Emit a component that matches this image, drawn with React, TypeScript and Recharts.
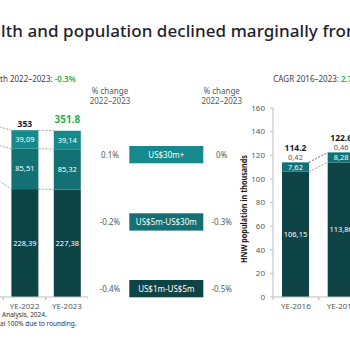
import { BarChart, Bar, XAxis, YAxis } from 'recharts';

// HNW wealth (left) and HNW population (right), stacked by wealth band
const wealthYears = ['YE-2021', 'YE-2022', 'YE-2023'];
const wealth1to5 = [250.0, 228.39, 227.38];
const wealth5to30 = [72.0, 85.51, 85.32];
const wealth30plus = [40.0, 39.09, 39.14];
// YE-2021 only feeds the dashed connectors coming in from the left edge
const wealthLabelFrom = 1;

const popYears = ['YE-2016', 'YE-2017'];
const pop1to5 = [106.15, 113.86];
const pop5to30 = [7.62, 8.28];
const pop30plus = [0.42, 0.46];
const popTicks = [0, 20, 40, 60, 80, 100, 120, 140, 160];

const bands = ['US$30m+', 'US$5m-US$30m', 'US$1m-US$5m'];
const wealthChange = ['0.1%', '-0.2%', '-0.4%'];
const popChange = ['0%', '-0.3%', '-0.5%'];

const C_HIGH = '#15898b';
const C_MID = '#137174';
const C_LOW = '#0f4447';
const GREEN = '#27b24a';
const GREY = '#595959';
const FONT = '"Noto Sans", sans-serif';

// layout
const PLOT_TOP = 107.7;
const PLOT_H = 189;
const TOP_PAD = 30;
const AXIS_H = 30;
const LEFT_STEP = 42.4;
const LEFT_X0 = 3.3 - LEFT_STEP;
const RIGHT_STEP = 45.7;
const RIGHT_X0 = 272.7;
const Y_AXIS_W = 30;

const comma = (v: number) => v.toFixed(2).replace('.', ',');
const totalFmt = (v: number) => String(Math.round(v * 10) / 10);

const cumulate = (...cols: number[][]) =>
  cols[0].map((_, i) => cols.reduce((s, c) => s + c[i], 0));

const wealthData = wealthYears.map((year, i) => ({
  year,
  low: wealth1to5[i],
  mid: wealth5to30[i],
  high: wealth30plus[i],
}));
const popData = popYears.map((year, i) => ({
  year,
  low: pop1to5[i],
  mid: pop5to30[i],
  high: pop30plus[i],
}));

type SegOpts = {
  fill: string;
  values: number[];
  tops: number[];
  step: number;
  inside?: boolean;
  labelFrom?: number;
  extra?: (p: any, i: number) => any;
};

// rect + dashed connector to the same segment of the next bar + label
function segmentShape(o: SegOpts) {
  return (p: any) => {
    const { x, y, width, height, index } = p;
    const ratio = height / o.values[index];
    const hasNext = index + 1 < o.tops.length;
    const labelled = index >= (o.labelFrom ?? 0);
    return (
      <g>
        <rect x={x} y={y} width={width} height={height} fill={o.fill} />
        {hasNext && (
          <line
            x1={x + width}
            y1={y}
            x2={x + o.step}
            y2={y + (o.tops[index] - o.tops[index + 1]) * ratio}
            stroke="#8c8c8c"
            strokeWidth={0.8}
            strokeDasharray="2 1.5"
          />
        )}
        {o.inside && labelled && (
          <text
            x={x + width / 2}
            y={y + height / 2}
            dy="0.35em"
            textAnchor="middle"
            fill="#ffffff"
            fontSize={7.5}
          >
            {comma(o.values[index])}
          </text>
        )}
        {o.extra && labelled && o.extra(p, index)}
      </g>
    );
  };
}

function CatTick(props: any) {
  const { x, y, payload, step, hideBefore } = props;
  const show = x >= (hideBefore ?? -Infinity);
  return (
    <g>
      <line x1={x - step / 2} y1={y} x2={x - step / 2} y2={y + 3} stroke="#bfbfbf" />
      <line x1={x + step / 2} y1={y} x2={x + step / 2} y2={y + 3} stroke="#bfbfbf" />
      {show && (
        <text x={x} y={y + 12} textAnchor="middle" fill={GREY} fontSize={8}>
          {payload.value}
        </text>
      )}
    </g>
  );
}

export default function App() {
  const wTotals = cumulate(wealth1to5, wealth5to30, wealth30plus);
  const pTotals = cumulate(pop1to5, pop5to30, pop30plus);

  const wealthTotal = (p: any, i: number) => {
    const last = i === wealthYears.length - 1;
    return (
      <text
        x={p.x + p.width / 2}
        y={p.y - (last ? 8 : 3)}
        textAnchor="middle"
        fill={last ? GREEN : '#1a1a1a'}
        fontSize={last ? 10 : 8.5}
        fontWeight={700}
      >
        {totalFmt(wTotals[i])}
      </text>
    );
  };

  const popTotal = (p: any, i: number) => (
    <g>
      <text x={p.x + p.width / 2} y={p.y - 2} textAnchor="middle" fill={GREY} fontSize={7.5}>
        {comma(pop30plus[i])}
      </text>
      <text
        x={p.x + p.width / 2}
        y={p.y - 11}
        textAnchor="middle"
        fill="#1a1a1a"
        fontSize={8.5}
        fontWeight={700}
      >
        {totalFmt(pTotals[i])}
      </text>
    </g>
  );

  const chartH = TOP_PAD + PLOT_H + AXIS_H;
  const boxY = [146, 213.3, 280];
  const boxFill = [C_HIGH, C_MID, C_LOW];

  return (
    <div
      style={{
        position: 'fixed',
        left: 0,
        top: 0,
        width: 350,
        height: 350,
        overflow: 'hidden',
        background: '#ffffff',
        fontFamily: FONT,
      }}
    >
      {/* wealth chart, partly off the left edge */}
      <div style={{ position: 'absolute', left: LEFT_X0, top: PLOT_TOP - TOP_PAD }}>
        <BarChart
          width={LEFT_STEP * wealthYears.length}
          height={chartH}
          data={wealthData}
          margin={{ top: TOP_PAD, right: 0, bottom: 0, left: 0 }}
          barSize={27}
        >
          <XAxis
            dataKey="year"
            height={AXIS_H}
            interval={0}
            tickSize={0}
            tickMargin={0}
            tickLine={false}
            axisLine={{ stroke: '#bfbfbf' }}
            tick={(p: any) => <CatTick {...p} step={LEFT_STEP} hideBefore={LEFT_STEP} />}
          />
          <YAxis hide domain={[0, 400]} />
          <Bar
            dataKey="low"
            stackId="w"
            fill={C_LOW}
            isAnimationActive={false}
            shape={segmentShape({
              fill: C_LOW,
              values: wealth1to5,
              tops: cumulate(wealth1to5),
              step: LEFT_STEP,
              inside: true,
              labelFrom: wealthLabelFrom,
            })}
          />
          <Bar
            dataKey="mid"
            stackId="w"
            fill={C_MID}
            isAnimationActive={false}
            shape={segmentShape({
              fill: C_MID,
              values: wealth5to30,
              tops: cumulate(wealth1to5, wealth5to30),
              step: LEFT_STEP,
              inside: true,
              labelFrom: wealthLabelFrom,
            })}
          />
          <Bar
            dataKey="high"
            stackId="w"
            fill={C_HIGH}
            isAnimationActive={false}
            shape={segmentShape({
              fill: C_HIGH,
              values: wealth30plus,
              tops: wTotals,
              step: LEFT_STEP,
              inside: true,
              labelFrom: wealthLabelFrom,
              extra: wealthTotal,
            })}
          />
        </BarChart>
      </div>

      {/* population chart, partly off the right edge */}
      <div style={{ position: 'absolute', left: RIGHT_X0 - Y_AXIS_W, top: PLOT_TOP - TOP_PAD }}>
        <BarChart
          width={Y_AXIS_W + RIGHT_STEP * popYears.length}
          height={chartH}
          data={popData}
          margin={{ top: TOP_PAD, right: 0, bottom: 0, left: 0 }}
          barSize={27}
        >
          <XAxis
            dataKey="year"
            height={AXIS_H}
            interval={0}
            tickSize={0}
            tickMargin={0}
            tickLine={false}
            axisLine={{ stroke: '#bfbfbf' }}
            tick={(p: any) => <CatTick {...p} step={RIGHT_STEP} />}
          />
          <YAxis
            width={Y_AXIS_W}
            domain={[0, 160]}
            ticks={popTicks}
            interval={0}
            tickSize={3}
            tickMargin={5}
            axisLine={{ stroke: '#bfbfbf' }}
            tickLine={{ stroke: '#bfbfbf' }}
            tick={{ fontSize: 8, fill: GREY }}
          />
          <Bar
            dataKey="low"
            stackId="p"
            fill={C_LOW}
            isAnimationActive={false}
            shape={segmentShape({
              fill: C_LOW,
              values: pop1to5,
              tops: cumulate(pop1to5),
              step: RIGHT_STEP,
              inside: true,
            })}
          />
          <Bar
            dataKey="mid"
            stackId="p"
            fill={C_MID}
            isAnimationActive={false}
            shape={segmentShape({
              fill: C_MID,
              values: pop5to30,
              tops: cumulate(pop1to5, pop5to30),
              step: RIGHT_STEP,
              inside: true,
            })}
          />
          <Bar
            dataKey="high"
            stackId="p"
            fill={C_HIGH}
            isAnimationActive={false}
            shape={segmentShape({
              fill: C_HIGH,
              values: pop30plus,
              tops: pTotals,
              step: RIGHT_STEP,
              extra: popTotal,
            })}
          />
        </BarChart>
      </div>

      {/* titles, change columns, band legend, notes */}
      <svg
        width={350}
        height={350}
        style={{ position: 'absolute', left: 0, top: 0, pointerEvents: 'none' }}
      >
        <text x={1} y={36.5} fontSize={17} fontWeight={500} fill="#1e1e2b" textLength={361}>
          lth and population declined marginally from
        </text>

        <text x={0} y={82} fontSize={8} fill="#404040">
          th 2022–2023: <tspan fill={GREEN} fontWeight={600}>-0.3%</tspan>
        </text>
        <text x={273.3} y={82} fontSize={8} fill="#404040">
          CAGR 2016–2023: <tspan fill={GREEN} fontWeight={600}>2.7%</tspan>
        </text>

        {[110, 221.7].map((cx) => (
          <g key={cx} fill={GREY} fontSize={8} textAnchor="middle">
            <text x={cx} y={94}>% change</text>
            <text x={cx} y={104}>2022–2023</text>
          </g>
        ))}

        {bands.map((b, i) => (
          <g key={b}>
            <text x={110} y={boxY[i] + 11.5} fontSize={8} fill={GREY} textAnchor="middle">
              {wealthChange[i]}
            </text>
            <rect x={129.3} y={boxY[i]} width={74} height={17.3} fill={boxFill[i]} />
            <text x={166.3} y={boxY[i] + 11.5} fontSize={8} fill="#ffffff" textAnchor="middle">
              {b}
            </text>
            <text x={221.7} y={boxY[i] + 11.5} fontSize={8} fill={GREY} textAnchor="middle">
              {popChange[i]}
            </text>
          </g>
        ))}

        <text
          x={0}
          y={0}
          transform="translate(246.5 209) rotate(-90)"
          textAnchor="middle"
          fontSize={8}
          fontWeight={700}
          fill="#1a1a1a"
          textLength={108}
          lengthAdjust="spacingAndGlyphs"
        >
          HNW population in thousands
        </text>

        <text x={2} y={316.5} fontSize={6.5} fill="#333333">
          Analysis, 2024.
        </text>
        <text x={0} y={325.5} fontSize={6.5} fill="#333333">
          al 100% due to rounding.
        </text>
      </svg>
    </div>
  );
}
